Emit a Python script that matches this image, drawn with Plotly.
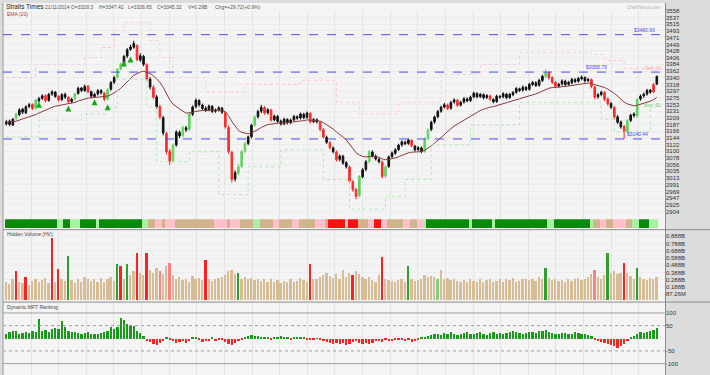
import plotly.graph_objects as go
import pandas as pd

W, H = 710, 375

# ---------------- data ----------------
opens = [
3190,3199,3186,3207,3220,3238,3226,3247,3253,3241,
3265,3273,3282,3266,3287,3293,3280,3269,3286,3276,
3263,3271,3289,3307,3298,3313,3295,3279,3287,3299,
3290,3271,3303,3326,3342,3369,3385,3411,3433,3440,
3445,3398,3410,3383,3336,3309,3278,3246,3210,3158,
3100,3070,3121,3162,3151,3177,3172,3221,3246,3266,
3251,3241,3236,3247,3231,3236,3241,3227,3178,3097,
3010,3029,3051,3100,3126,3148,3186,3213,3231,3243,
3226,3235,3203,3214,3199,3190,3204,3194,3203,3213,
3209,3221,3211,3224,3197,3203,3195,3171,3146,3129,
3111,3098,3074,3084,3063,3049,3001,2976,2955,3017,
3041,3067,3098,3084,3074,3065,3019,3051,3083,3094,
3106,3121,3130,3126,3136,3117,3106,3111,3100,3141,
3171,3196,3213,3231,3245,3251,3241,3261,3267,3251,
3261,3271,3266,3278,3289,3279,3285,3276,3281,3269,
3263,3279,3278,3287,3276,3285,3293,3304,3300,3309,
3303,3318,3324,3316,3331,3344,3357,3341,3326,3313,
3320,3329,3319,3324,3334,3329,3337,3341,3331,3334,
3310,3278,3286,3292,3271,3256,3243,3213,3196,3181,
3165,3201,3217,3215,3271,3281,3287,3300,3294,3320]
highs = [
3203,3204,3209,3226,3241,3242,3250,3258,3257,3271,
3278,3287,3286,3291,3300,3297,3284,3290,3292,3280,
3275,3292,3311,3310,3318,3316,3298,3291,3303,3303,
3294,3306,3329,3347,3372,3390,3415,3437,3448,3461,
3450,3420,3415,3388,3342,3316,3284,3252,3216,3164,
3108,3126,3169,3168,3184,3183,3228,3250,3273,3270,
3256,3247,3253,3251,3240,3247,3245,3231,3184,3102,
3038,3058,3105,3131,3152,3190,3218,3236,3252,3248,
3241,3239,3220,3219,3204,3210,3208,3207,3219,3218,
3227,3226,3230,3228,3209,3208,3199,3176,3151,3134,
3116,3103,3090,3089,3068,3054,3006,2981,3023,3046,
3072,3104,3103,3090,3079,3070,3055,3087,3100,3110,
3125,3136,3135,3142,3140,3121,3117,3116,3145,3175,
3200,3217,3235,3249,3258,3256,3265,3273,3271,3265,
3277,3276,3282,3295,3293,3291,3289,3287,3285,3274,
3285,3284,3293,3291,3291,3297,3310,3308,3315,3313,
3324,3330,3329,3337,3350,3368,3362,3345,3330,3324,
3335,3334,3330,3340,3339,3343,3348,3345,3340,3338,
3314,3290,3298,3297,3276,3261,3248,3218,3201,3186,
3205,3223,3228,3274,3286,3292,3304,3303,3323,3347]
lows = [
3184,3182,3183,3201,3215,3222,3221,3241,3235,3236,
3260,3268,3260,3262,3281,3275,3262,3264,3271,3256,
3257,3266,3285,3293,3294,3289,3274,3275,3282,3286,
3264,3266,3298,3320,3337,3364,3380,3405,3428,3435,
3394,3392,3378,3329,3302,3270,3238,3205,3152,3090,
3055,3062,3115,3143,3145,3163,3166,3215,3240,3246,
3234,3228,3231,3225,3226,3230,3222,3174,3092,2998,
3002,3022,3045,3094,3120,3142,3180,3207,3225,3219,
3220,3197,3198,3193,3184,3185,3188,3189,3198,3203,
3204,3205,3206,3191,3192,3191,3166,3141,3124,3106,
3093,3066,3068,3056,3044,2995,2968,2944,2950,3012,
3035,3061,3080,3070,3061,3012,3014,3046,3078,3089,
3101,3115,3120,3121,3113,3099,3101,3094,3095,3136,
3166,3190,3208,3226,3240,3235,3236,3256,3245,3246,
3256,3260,3261,3273,3273,3274,3270,3271,3265,3257,
3258,3272,3273,3270,3271,3280,3288,3294,3295,3297,
3298,3313,3310,3311,3326,3339,3335,3320,3306,3308,
3315,3313,3314,3319,3323,3324,3332,3325,3326,3306,
3270,3272,3280,3264,3249,3238,3205,3189,3174,3140,
3158,3195,3210,3210,3265,3275,3282,3288,3290,3316]
closes = [
3196,3188,3205,3221,3235,3228,3246,3252,3240,3267,
3272,3281,3265,3286,3294,3279,3268,3285,3277,3262,
3270,3288,3306,3299,3312,3294,3280,3286,3298,3291,
3270,3302,3325,3341,3368,3384,3410,3432,3441,3452,
3400,3412,3384,3335,3310,3277,3245,3212,3160,3099,
3068,3120,3163,3150,3178,3170,3222,3245,3267,3252,
3240,3235,3248,3230,3235,3242,3228,3180,3099,3008,
3030,3050,3099,3125,3147,3185,3212,3230,3244,3225,
3236,3202,3215,3198,3189,3205,3193,3202,3214,3208,
3222,3210,3225,3196,3204,3196,3172,3147,3130,3112,
3099,3073,3085,3062,3050,3002,2975,2953,3018,3040,
3066,3099,3085,3075,3066,3018,3050,3082,3095,3105,
3120,3131,3125,3137,3118,3105,3112,3099,3140,3170,
3195,3212,3230,3244,3252,3240,3260,3268,3250,3260,
3272,3265,3277,3290,3278,3286,3275,3282,3270,3262,
3280,3277,3288,3275,3286,3292,3305,3299,3310,3302,
3319,3325,3315,3332,3345,3358,3340,3325,3312,3319,
3330,3318,3325,3335,3328,3338,3342,3330,3335,3312,
3277,3285,3293,3270,3255,3244,3212,3195,3180,3163,
3200,3218,3222,3270,3280,3286,3299,3293,3318,3345]
# candle colour class: k=black, r=red, g=green
candle_cls = ("kkkgkkkkrg" "kkrkkkrkkr" "kgkkkrkkkk" "rgkkggkkkk" "rkkrkrkrkr"
              "rgkkgkgkkk" "kkkkkkkrrr" "kgggkkgkkr" "krkkkkkkkk" "kkkrkkrrkr"
              "krkkkrrrgk" "kgkkkrgkkk" "kkkkrkkkgg" "kkkkkrkkrk" "kkkkkkkkrk"
              "kkkkkkkkkk" "kkkkkgrrrk" "kkkkkkkkkr" "rkkrrkrkkr" "gkkgkkkkrk")
# volume in millions
volumes = [
250,230,300,400,260,240,330,210,270,290,
250,280,310,240,860,260,440,300,270,620,
280,240,300,260,320,290,270,300,250,310,
260,290,330,270,510,480,300,510,350,400,
660,380,350,660,420,380,450,400,360,480,
520,350,300,320,280,300,260,340,290,310,
280,560,300,270,290,310,330,350,400,420,
360,380,300,330,290,310,280,300,270,290,
260,300,250,280,240,270,260,300,250,270,
310,280,260,500,290,300,330,350,380,340,
310,360,300,420,330,380,350,400,360,320,
300,320,280,260,350,600,300,280,270,260,
280,300,260,470,290,270,280,300,350,330,
340,320,300,420,290,310,280,300,270,260,
280,260,300,270,250,290,260,280,300,250,
270,290,260,300,280,310,250,270,290,300,
280,300,270,320,300,450,310,280,300,270,
280,260,300,270,290,310,280,300,320,360,
420,330,300,350,650,380,400,360,380,520,
380,340,300,450,320,300,280,310,290,330]
vol_cls = ("tttrttrttt" "ttttrtrttg" "tttttttttt" "ttttgrtgtt" "rttrtttptt"
           "pttttttttt" "trtttttttt" "tgtttttttt" "tttttttttt" "tttrtttttt"
           "ttttttrttt" "tttttrtttt" "tttgtttttt" "ttlttttttt" "tttttttttt"
           "tttttttttt" "tttttgtttt" "tttttttttt" "ptttgttttr" "tttgtttttt")
mft = [
20,25,32,30,18,22,28,24,30,26,
78,30,35,28,40,42,38,70,45,30,
25,28,22,20,22,25,20,18,20,22,
28,32,45,40,48,80,75,60,55,50,
30,22,10,-8,-12,-20,-25,-15,-10,8,
-5,-10,-18,-12,-8,-15,-10,5,8,-6,
-12,-10,-8,5,-10,-6,-4,-14,-20,-25,
-15,-8,-5,6,10,15,12,10,8,6,
5,-3,4,8,10,6,5,-4,6,8,
4,3,-3,-6,-4,2,-5,-10,-14,-18,
-20,-15,-22,-18,-25,-20,-12,-10,-15,-20,
-18,-22,-15,-10,-8,-12,-6,-10,-8,-5,
-6,-4,-10,-5,-12,-8,-4,3,8,12,
15,18,20,16,22,18,25,20,14,18,
22,25,20,18,24,28,20,16,22,26,
20,24,18,22,26,30,28,24,20,22,
25,28,24,30,32,35,28,22,18,20,
24,22,18,20,26,22,20,18,14,10,
-5,-8,-12,-15,-20,-25,-30,-35,-28,-20,
-10,5,12,20,25,22,28,30,35,42]
strip_cls = ("GGGGGGGGGG" "GGGGGGLLGG" "LLLGGGGGLG" "GGGGGGGGGG" "GGLLTTPPTP"
             "PPTTTTTTTT" "TTTTPPPPTP" "PPTTTTLLTT" "TTPPTTTTPP" "TTTTTPPPTR"
             "RRRRPRRRTT" "TPPRRPPTTT" "TTPPTTPPLG" "GGGGGGGGGG" "GGLGGGGGGL"
             "GGGGGGGGGG" "GGGGGGLLGG" "GGGGGGGGGL" "TTPPTTPPPP" "TTLLGGGLLL")
upper_start = [0, 9, 24, 29, 33, 36, 44, 47, 51, 61, 73, 90, 101, 108, 120, 133, 145, 157, 179, 183, 189]
upper_level = [3341, 3384, 3406, 3439, 3494, 3520, 3461, 3406, 3341, 3293, 3319, 3332, 3260, 3222, 3260, 3351, 3384, 3422, 3416, 3397, 3371]
lower_start = [0, 10, 23, 31, 34, 43, 46, 56, 65, 74, 84, 97, 105, 116, 122, 130, 142, 157, 182, 186, 197]
lower_level = [3147, 3202, 3222, 3244, 3335, 3244, 3066, 3099, 2959, 3050, 3105, 3008, 2911, 2953, 3008, 3121, 3186, 3260, 3205, 3163, 3251]
arrow_idx = [10, 19, 27, 31, 36, 38]
arrow_price = [3262, 3250, 3270, 3254, 3397, 3410]
levels = [3480.93, 3358.79, 3140.44]
level_labels = ["$3480.93", "$3358.79", "$3140.44"]
price_ticks = [3558, 3537, 3515, 3493, 3471, 3449, 3428, 3406, 3384, 3362, 3340, 3318, 3297, 3275,
               3253, 3231, 3209, 3187, 3166, 3144, 3122, 3100, 3078, 3056, 3035, 3013, 2991, 2969,
               2947, 2925, 2904]
vol_ticks = [888, 788, 688, 588, 488, 388, 288, 188, 87.26]
vol_tick_text = ["0.888B", "0.788B", "0.688B", "0.588B", "0.488B", "0.388B", "0.288B", "0.188B", "87.26M"]
mft_ticks = [100, 50, -50, -100]

N = len(closes)
idx = list(range(N))

def py(y):
    return 1 - y / H

def px(x):
    return x / W

FONT = "Liberation Sans"
fig = go.Figure()

# candles in three colour classes
cc = {"k": "#111111", "r": "#ff2a2a", "g": "#5fd35f"}
for cls, col in cc.items():
    sel = [i for i in idx if candle_cls[i] == cls]
    fig.add_trace(go.Candlestick(
        x=sel, open=[opens[i] for i in sel], high=[highs[i] for i in sel],
        low=[lows[i] for i in sel], close=[closes[i] for i in sel],
        increasing=dict(line=dict(color=col, width=1), fillcolor=col),
        decreasing=dict(line=dict(color=col, width=1), fillcolor=col),
        whiskerwidth=0, xaxis="x", yaxis="y", showlegend=False, hoverinfo="skip"))

ema = pd.Series(closes).ewm(span=20, adjust=False).mean()
fig.add_trace(go.Scatter(x=idx, y=ema, mode="lines", line=dict(color="#8b3a3a", width=1),
                         xaxis="x", yaxis="y", showlegend=False, hoverinfo="skip"))

fig.add_trace(go.Scatter(x=upper_start + [N - 1], y=upper_level + [upper_level[-1]], mode="lines",
                         line=dict(color="#ffc8d0", width=1, dash="dot", shape="hv"),
                         xaxis="x", yaxis="y", showlegend=False, hoverinfo="skip"))
fig.add_trace(go.Scatter(x=lower_start + [N - 1], y=lower_level + [lower_level[-1]], mode="lines",
                         line=dict(color="#b0eab0", width=1, dash="dot", shape="hv"),
                         xaxis="x", yaxis="y", showlegend=False, hoverinfo="skip"))
fig.add_trace(go.Scatter(x=arrow_idx, y=arrow_price, mode="markers",
                         marker=dict(symbol="arrow-up", size=6, color="#1aa81a", line=dict(width=0)),
                         xaxis="x", yaxis="y", showlegend=False, hoverinfo="skip"))

# indicator strip
strip_col = {"G": "#0a8a0a", "L": "#a6f2a0", "T": "#d2b48c", "P": "#ffc0cb", "R": "#ff1010"}
fig.add_trace(go.Bar(x=idx, y=[1] * N, width=1.0, marker=dict(color=[strip_col[c] for c in strip_cls], line=dict(width=0)),
                     xaxis="x", yaxis="y2", showlegend=False, hoverinfo="skip"))

# volume
vcol = {"t": "#d8bc96", "r": "#ff2020", "g": "#2ea02e", "p": "#ff8080", "l": "#80d080"}
fig.add_trace(go.Bar(x=idx, y=volumes, width=0.55, marker=dict(color=[vcol[c] for c in vol_cls], line=dict(width=0)),
                     xaxis="x2", yaxis="y3", showlegend=False, hoverinfo="skip"))

# MFT ranking
fig.add_trace(go.Bar(x=idx, y=mft, width=0.7,
                     marker=dict(color=["#1a9a1a" if v >= 0 else "#ff2020" for v in mft], line=dict(width=0)),
                     xaxis="x3", yaxis="y4", showlegend=False, hoverinfo="skip"))

xd = [px(3), px(665)]
xr = [-1, N + 1.5]
grid_x = [7.6 + 8.45 * k for k in range(23)]
common_x = dict(range=xr, domain=xd, showticklabels=False, showgrid=True, gridcolor="#e4e4e4",
                tickvals=grid_x, zeroline=False, showline=False, fixedrange=True, rangeslider=dict(visible=False))
tickfont = dict(family=FONT, size=6, color="#333333")

fig.update_layout(
    width=W, height=H, margin=dict(l=0, r=0, t=0, b=0),
    paper_bgcolor="#dcdcdc", plot_bgcolor="rgba(0,0,0,0)",
    xaxis=dict(**common_x, anchor="y"),
    xaxis2=dict(**common_x, anchor="y3", matches="x"),
    xaxis3=dict(**common_x, anchor="y4", matches="x"),
    yaxis=dict(domain=[py(228), py(8)], range=[2846, 3558.4], side="right", tickvals=price_ticks,
               ticktext=[str(v) for v in price_ticks], tickfont=tickfont, showgrid=True, gridcolor="#ececec",
               zeroline=False, ticks="", fixedrange=True),
    yaxis2=dict(domain=[py(227), py(218)], range=[0, 1], visible=False, anchor="x", fixedrange=True),
    yaxis3=dict(domain=[py(300), py(229)], range=[0, 973], side="right", anchor="x2", tickvals=vol_ticks,
                ticktext=vol_tick_text, tickfont=tickfont, showgrid=True, gridcolor="#ececec",
                zeroline=False, ticks="", fixedrange=True),
    yaxis4=dict(domain=[py(375), py(302)], range=[-145, 141], side="right", anchor="x3", tickvals=mft_ticks,
                ticktext=[str(v) for v in mft_ticks], tickfont=tickfont, showgrid=False,
                zeroline=False, ticks="", fixedrange=True),
    bargap=0, barmode="overlay", showlegend=False, font=dict(family=FONT, size=6),
)

shapes = []
shapes.append(dict(type="rect", xref="paper", yref="paper", x0=px(3), x1=px(665), y0=0, y1=1,
                   fillcolor="#f4f4f4", line=dict(width=0), layer="below"))
shapes.append(dict(type="line", xref="paper", yref="paper", x0=px(665.5), x1=px(665.5), y0=0, y1=1,
                   line=dict(color="#8a8a8a", width=1)))
shapes.append(dict(type="line", xref="paper", yref="paper", x0=px(3), x1=px(3), y0=0, y1=1,
                   line=dict(color="#9a9a9a", width=1)))
for yy in [228.5, 301.5]:
    shapes.append(dict(type="line", xref="paper", yref="paper", x0=px(3), x1=1, y0=py(yy), y1=py(yy),
                       line=dict(color="#8a8a8a", width=1)))
for v in [100, -100]:
    shapes.append(dict(type="line", xref="paper", yref="y4", x0=px(3), x1=px(665), y0=v, y1=v,
                       line=dict(color="#a0a0a0", width=1)))
for v in [50, -50]:
    shapes.append(dict(type="line", xref="paper", yref="y4", x0=px(3), x1=px(665), y0=v, y1=v,
                       line=dict(color="#a0a0a0", width=1, dash="dot")))
for lv in levels:
    shapes.append(dict(type="line", xref="paper", yref="y", x0=px(3), x1=px(665), y0=lv, y1=lv,
                       line=dict(color="#4a4aff", width=1, dash="dash")))
fig.update_layout(shapes=shapes)

ann = []
def txt(x, y, s, size=6, color="#222222", anchor="left"):
    ann.append(dict(x=px(x), y=py(y), xref="paper", yref="paper", text=s, showarrow=False,
                    xanchor=anchor, yanchor="middle", font=dict(family=FONT, size=size, color=color)))

txt(4, 4, "Straits Times", 6.5, "#222222")
txt(43, 4, "21/11/2014", 5, "#555555")
txt(69, 4, "O=3328.3", 5, "#555555")
txt(97, 4, "H=3347.42", 5, "#555555")
txt(126, 4, "L=3326.65", 5, "#555555")
txt(155, 4, "C=3345.32", 5, "#555555")
txt(186, 4, "V=0.29B", 5, "#555555")
txt(213, 4, "Chg=+29.72(+0.9%)", 5, "#555555")
ann.append(dict(x=px(663), y=1, xref="paper", yref="paper", text="ChartNexus.com", showarrow=False,
                xanchor="right", yanchor="top", font=dict(family=FONT, size=4.5, color="#b0b0b0")))
txt(5, 11.5, "EMA (20)", 5, "#c03030")
txt(5, 232.5, "Hidden Volume (HV)", 5, "#444444")
txt(5, 306, "Dynamic MFT Ranking", 5, "#444444")
for lv, lab, xx in zip(levels, level_labels, [632, 584, 625]):
    ann.append(dict(x=px(xx), y=lv, xref="paper", yref="y", text=lab, showarrow=False, xanchor="left",
                    yanchor="bottom", font=dict(family=FONT, size=5, color="#4a4aff")))
ann.append(dict(x=px(664), y=upper_level[-1], xref="paper", yref="y", text="Sell_SL", showarrow=False,
                xanchor="right", yanchor="middle", font=dict(family=FONT, size=5, color="#ffa0a8")))
ann.append(dict(x=px(664), y=lower_level[-1], xref="paper", yref="y", text="Buy_SL", showarrow=False,
                xanchor="right", yanchor="middle", font=dict(family=FONT, size=5, color="#80d080")))
fig.update_layout(annotations=ann)

fig.write_html("out.html", config={"displayModeBar": False},
               post_script="document.body.style.margin='0';document.body.style.padding='0';")
